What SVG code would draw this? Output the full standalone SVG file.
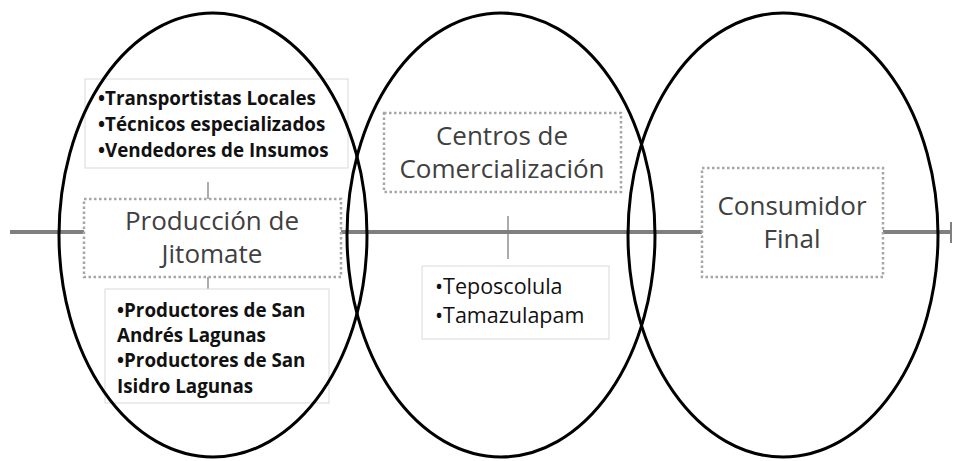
<svg xmlns="http://www.w3.org/2000/svg" width="953" height="461" viewBox="0 0 953 461">
<style>
.axis{stroke:#7f7f7f;stroke-width:4;fill:none}
.link{stroke:#7f7f7f;stroke-width:1.3;fill:none}
.main{fill:#fff;stroke:#a6a6a6;stroke-width:2.5;stroke-dasharray:2.5 2.5}
.list{fill:#fff;stroke:#d9d9d9;stroke-width:1}
.ell{fill:none;stroke:#000;stroke-width:3}
.t{font-family:"Open Sans","Liberation Sans",sans-serif;font-size:26px;fill:#404040;text-anchor:middle}
.l{font-family:"Open Sans","Liberation Sans",sans-serif;font-size:18.8px;fill:#111}
.r{font-size:21.5px}
.b{font-weight:bold}
</style>
<g id="connectors">
<line class="axis" x1="10" y1="232" x2="84" y2="232"/>
<line class="axis" x1="341" y1="232" x2="702" y2="232"/>
<line class="axis" x1="883" y1="232" x2="950" y2="232"/>
<line class="axis" x1="951" y1="222" x2="951" y2="243" style="stroke-width:2"/>
<line class="link" x1="208" y1="182" x2="208" y2="199"/>
<line class="link" x1="208" y1="277" x2="208" y2="293"/>
<line class="link" x1="508" y1="216" x2="508" y2="259"/>
</g>
<g id="actores-produccion">
<rect class="list" x="85" y="79" width="263" height="89"/>
<text class="l b" x="98" y="105">•Transportistas Locales</text>
<text class="l b" x="98" y="131">•Técnicos especializados</text>
<text class="l b" x="98" y="157">•Vendedores de Insumos</text>
</g>
<g id="produccion">
<rect class="main" x="84" y="199" width="257" height="78"/>
<text class="t" x="212" y="230">Producción de</text>
<text class="t" x="212" y="263">Jitomate</text>
</g>
<g id="productores">
<rect class="list" x="105" y="289" width="224" height="114"/>
<text class="l b" x="117" y="317">•Productores de San</text>
<text class="l b" x="117" y="342">Andrés Lagunas</text>
<text class="l b" x="117" y="367">•Productores de San</text>
<text class="l b" x="117" y="393">Isidro Lagunas</text>
</g>
<g id="centros">
<rect class="main" x="384" y="113" width="237" height="79"/>
<text class="t" x="502" y="145">Centros de</text>
<text class="t" x="502" y="178">Comercialización</text>
</g>
<g id="localidades">
<rect class="list" x="422" y="266" width="187" height="73"/>
<text class="l r" x="435" y="294">•Teposcolula</text>
<text class="l r" x="435" y="323">•Tamazulapam</text>
</g>
<g id="consumidor">
<rect class="main" x="702" y="168" width="181" height="109"/>
<text class="t" x="792" y="215">Consumidor</text>
<text class="t" x="792" y="248">Final</text>
</g>
<g id="ellipses">
<ellipse class="ell" cx="213" cy="235" rx="154" ry="222"/>
<ellipse class="ell" cx="501" cy="235" rx="154" ry="222"/>
<ellipse class="ell" cx="783" cy="235" rx="155" ry="222"/>
</g>
</svg>
